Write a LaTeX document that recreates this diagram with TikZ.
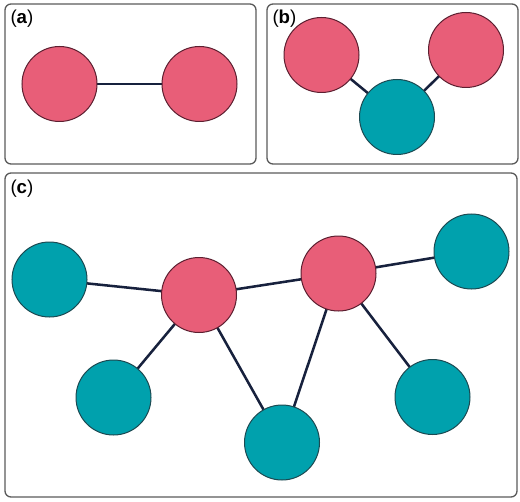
\documentclass[tikz,border=0pt]{standalone}
\usepackage{fontspec}
\setmainfont{Liberation Sans}
\definecolor{pinkfill}{HTML}{E85E78}
\definecolor{pinkline}{HTML}{5C1F30}
\definecolor{tealfill}{HTML}{00A1AD}
\definecolor{tealline}{HTML}{1C4A52}
\definecolor{edgecol}{HTML}{17213D}
\definecolor{framecol}{HTML}{5A5A5A}
\tikzset{every picture/.style={line width=0.75pt}}
\tikzset{
  pinknode/.style={circle,draw=pinkline,fill=pinkfill,minimum size=56.25pt,inner sep=0pt},
  tealnode/.style={circle,draw=tealline,fill=tealfill,minimum size=56.25pt,inner sep=0pt},
  link/.style={draw=edgecol,line width=1.9pt},
  panel/.style={draw=framecol,line width=1pt,rounded corners=4.5pt},
  tag/.style={anchor=north west,inner sep=0pt,font=\fontsize{14pt}{16pt}\selectfont}
}

\begin{document}
\begin{tikzpicture}[x=0.75pt,y=0.75pt,yscale=-1,xscale=1]
        \useasboundingbox (0,0) rectangle (520,502);

        %Shape: Rectangle [panel a]
        \draw [panel]  (5,4) rectangle (256,164) ;
        %Shape: Rectangle [panel b]
        \draw [panel]  (267,4) rectangle (518,164) ;
        %Shape: Rectangle [panel c]
        \draw [panel]  (5,173) rectangle (517,497) ;

        % Text Node
        \node [tag] (taga) at (10,9) {(\textbf{a})};
        % Text Node
        \node [tag] (tagb) at (272,9) {(\textbf{b})};
        % Text Node
        \node [tag] (tagc) at (10,179) {(\textbf{c})};

        %Straight Lines [edges]
        \coordinate (a1) at (59.5,84);
        \coordinate (a2) at (199.5,84);
        \coordinate (b1) at (321.5,55);
        \coordinate (b2) at (466,50);
        \coordinate (b3) at (397,117);
        \coordinate (c1) at (49.5,279.5);
        \coordinate (c2) at (199,295);
        \coordinate (c3) at (338.5,273.5);
        \coordinate (c4) at (471.5,251.5);
        \coordinate (c5) at (113.5,397.5);
        \coordinate (c6) at (282,442.5);
        \coordinate (c7) at (432.5,397);

        \draw [link] (a1) -- (a2) ;
        \draw [link] (b1) -- (b3) -- (b2) ;
        \draw [link] (c1) -- (c2) -- (c3) -- (c4) ;
        \draw [link] (c2) -- (c5) ;
        \draw [link] (c2) -- (c6) -- (c3) -- (c7) ;

        %Shape: Circle [nodes]
        \node [pinknode] (na1) at (a1) {};
        \node [pinknode] (na2) at (a2) {};
        \node [pinknode] (nb1) at (b1) {};
        \node [pinknode] (nb2) at (b2) {};
        \node [tealnode] (nb3) at (b3) {};
        \node [tealnode] (nc1) at (c1) {};
        \node [pinknode] (nc2) at (c2) {};
        \node [pinknode] (nc3) at (c3) {};
        \node [tealnode] (nc4) at (c4) {};
        \node [tealnode] (nc5) at (c5) {};
        \node [tealnode] (nc6) at (c6) {};
        \node [tealnode] (nc7) at (c7) {};

\end{tikzpicture}
\end{document}
